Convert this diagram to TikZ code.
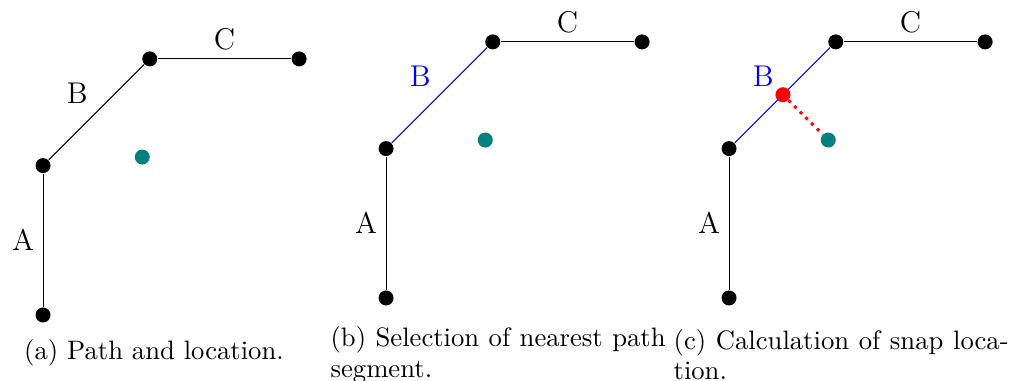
\documentclass[tikz,border=0pt]{standalone}
\tikzset{
  pt/.style={circle,fill=black,inner sep=0pt,minimum size=6pt},
  loc/.style={pt,fill=teal},
  snap/.style={pt,fill=red},
  seg/.style={font=\large},
  capt/.style={inner sep=0pt,font=\fontsize{10.66}{12.2}\selectfont},
  captwide/.style={capt,text width=134pt,align=justify},
}
\begin{document}
\begin{tikzpicture}
\useasboundingbox (0,0) rectangle (14.255,5.356);
\begin{scope}[xshift=0.605cm,yshift=0.928cm,x=1.5cm,y=1.5cm]
\node[pt] (a0) at (0,0) {}; \node[pt] (a1) at (0,1.4) {}; \node[pt] (a2) at (1,2.4) {}; \node[pt] (a3) at (2.4,2.4) {};
\node[loc] (aloc) at (0.93,1.48) {};
\draw (a0)--(a1) node[midway,left,seg] {A}; \draw (a1)--(a2) node[midway,above left,seg] {B}; \draw (a2)--(a3) node[midway,above,seg] {C};
\node[capt] (capa) at (1.04,-0.355) {(a) Path and location.};
\end{scope}
\begin{scope}[xshift=5.427cm,yshift=1.167cm,x=1.5cm,y=1.5cm]
\node[pt] (b0) at (0,0) {}; \node[pt] (b1) at (0,1.4) {}; \node[pt] (b2) at (1,2.4) {}; \node[pt] (b3) at (2.4,2.4) {};
\node[loc] (bloc) at (0.93,1.48) {};
\draw (b0)--(b1) node[midway,left,seg] {A}; \draw[blue] (b1)--(b2) node[midway,above left,seg] {B}; \draw (b2)--(b3) node[midway,above,seg] {C};
\node[captwide,anchor=west] (capb) at (-0.524,-0.53) {(b) Selection of nearest path segment.};
\end{scope}
\begin{scope}[xshift=10.249cm,yshift=1.167cm,x=1.5cm,y=1.5cm]
\node[pt] (c0) at (0,0) {}; \node[pt] (c1) at (0,1.4) {}; \node[pt] (c2) at (1,2.4) {}; \node[pt] (c3) at (2.4,2.4) {};
\node[loc] (cloc) at (0.93,1.48) {};
\draw (c0)--(c1) node[midway,left,seg] {A}; \draw[blue] (c1)--(c2) node[midway,above left,seg] {B}; \draw (c2)--(c3) node[midway,above,seg] {C};
\node[snap] (csnap) at (0.505,1.905) {};
\draw[red,very thick,dotted] (csnap)--(cloc);
\node[captwide,anchor=west] (capc) at (-0.524,-0.53) {(c) Calculation of snap location.};
\end{scope}
\end{tikzpicture}
\end{document}
